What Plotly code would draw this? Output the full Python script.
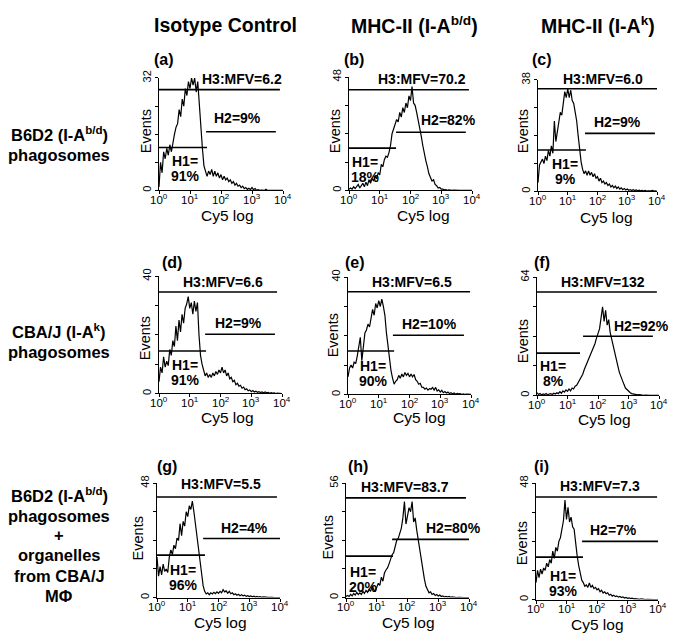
import plotly.graph_objects as go

W, H = 676, 637

# log10 fluorescence channel positions (bin grid, 0 .. 4 decades)
LOG_CHANNELS = [round(i * 0.05, 2) for i in range(81)]

COUNTS_A = [1, 8, 5, 11, 9, 12, 10, 13, 11, 14, 16, 18, 19, 23, 21, 26, 24, 29, 27, 31,
            29, 32, 30, 32, 28, 31, 24, 18, 12, 7, 5.5, 4, 5.5, 4.5, 6, 4, 5.5, 4, 5, 3.5,
            4.5, 3, 4, 3, 3.5, 2.5, 3, 2, 2.5, 1.5, 2, 1.2, 1.5, 0.8, 1.2, 0.5, 0.8, 0.3, 0.6, 0.2,
            0.8, 0.2, 0.5, 0, 0.2, 0, 0.1, 0, 0, 0.3, 0, 0, 0, 0.2, 0, 0, 0, 0, 0, 0, 0]
COUNTS_B = [0.5, 1, 0.5, 1.5, 0.8, 1.5, 2.5, 1, 2, 3, 1.5, 3.5, 2, 4.5, 3, 5, 4, 6, 5, 7.5,
            6.5, 11, 10, 13, 14.5, 14, 16, 19, 24, 26, 27, 30, 29, 33, 31, 35, 33, 37, 35, 40,
            38, 44, 37, 36, 33, 30, 27, 23, 19, 15, 12.5, 10, 7, 5.5, 4, 4.5, 2.5, 2, 1, 1.2,
            0.5, 0.5, 0.2, 0.3, 0, 0.2, 0, 0, 0.1, 0, 0, 0, 0, 0, 0, 0, 0, 0, 0, 0, 0]
COUNTS_C = [3, 9, 10, 11, 9.5, 12, 10.5, 14, 12, 15.5, 13, 24, 17, 20, 23, 27, 26, 31, 34, 32,
            35, 32, 34.5, 31, 30, 27, 24, 19, 13.5, 10, 7.5, 6, 7, 5.5, 7, 5.5, 6.5, 5, 6, 4.5,
            5, 3.5, 4.5, 3, 3.5, 2.5, 3, 2, 2.5, 1.5, 2, 1.2, 1.8, 1, 1.5, 0.8, 1.2, 0.6, 1, 0.5,
            0.8, 0.4, 0.6, 0.3, 0.6, 0.3, 0.5, 0.2, 0.4, 0.2, 0.3, 0.1, 0.3, 0.1, 0.2, 0.1, 0.2, 0.3, 0.1, 0.2, 0]
COUNTS_D = [4, 9, 7, 12.5, 9, 11, 9.5, 15, 13, 18, 16, 23, 18, 25, 21, 27, 24, 29, 30.5, 33,
            29, 31, 27, 31.5, 28, 31, 20, 13, 10, 7.5, 6, 7, 5.5, 6.5, 5.5, 7, 6, 7.5, 6.5, 8,
            7, 9, 7, 8, 6, 7, 5, 5.5, 4, 4.5, 3, 3.5, 2.5, 2.8, 1.8, 2.2, 1.3, 1.6, 0.9, 1.2,
            0.6, 1, 0.5, 0.8, 0.4, 0.6, 0.3, 0.5, 0.2, 0.5, 0.2, 0.4, 0.1, 0.3, 0.1, 0.2, 0, 0.1, 0, 0, 0]
COUNTS_E = [6, 9, 10, 9, 11, 10.5, 13, 16, 19.5, 11.5, 16, 21, 22, 24, 23, 26, 29, 27, 31, 29.5,
            32, 30, 32.5, 30, 27, 21, 16, 12, 8, 5.5, 3.5, 4.5, 5, 6.5, 5.5, 7, 6, 7.5, 6.5, 7.2,
            6, 7, 6, 6.8, 5, 4.5, 3.5, 3.8, 2.5, 2.4, 1.8, 2.2, 1.5, 2, 1.8, 2.4, 1.5, 2.4, 1.2, 1.6,
            0.8, 1.4, 0.6, 1, 0.5, 0.8, 0.3, 0.6, 0.2, 0.5, 0.1, 0.4, 0.2, 0.3, 0, 0.2, 0, 0.1, 0, 0, 0]
COUNTS_F = [1.5, 0.5, 1, 0.3, 0.8, 0.5, 1, 0.3, 0.8, 1, 0.5, 1.2, 0.8, 1.5, 1, 2, 1.2, 2.5, 1.8, 3,
            2.2, 3.5, 2.5, 4, 3.5, 5, 5.5, 7, 8.5, 10, 11.5, 14, 16, 18, 19.5, 21.5, 23, 26, 28, 31,
            33, 36, 42, 48, 40, 46, 38, 41, 34, 30, 27, 23, 19.5, 16, 12.5, 10, 7.5, 6, 4, 3.2,
            2, 1.6, 1, 0.8, 0.5, 0.6, 0.3, 0.4, 0.2, 0.3, 0.1, 0.2, 0, 0.2, 0, 0.1, 0, 0, 0, 0, 0]
COUNTS_G = [17, 9, 13, 9.5, 14, 11, 12, 10.5, 17, 20, 18, 22, 20.5, 25, 24, 31, 26, 32, 30, 36,
            34, 38.5, 37, 40.5, 36, 31, 25, 19, 14, 9, 5, 2.6, 1.5, 2, 1.2, 2, 1.5, 2.2, 1.6, 2.4,
            1.8, 2.6, 2, 3.3, 2.4, 2.8, 1.8, 2.6, 1.6, 2, 1.2, 1.6, 1, 1.4, 0.8, 1.2, 0.7, 1, 0.5, 0.8,
            0.4, 0.7, 0.3, 0.6, 0.2, 0.5, 0.2, 0.4, 0.1, 0.3, 0.1, 0.2, 0.1, 0.2, 0, 0.1, 0, 0, 0, 0, 0]
COUNTS_H = [0.5, 1, 0.5, 1.5, 0.8, 2, 1.2, 2.5, 1.5, 2.3, 1.5, 3, 2, 3.5, 2.5, 4, 3, 5.5, 4, 3,
            5, 7, 6, 10, 8, 12, 13.5, 14.5, 16.5, 19, 21, 22, 25, 28, 29, 31, 34, 39, 47, 36,
            41, 44, 42, 47, 37, 39, 33, 28, 22, 17, 12, 9, 5.5, 4, 2.3, 2.8, 1.5, 2, 1, 1.5,
            0.8, 1.2, 0.5, 0.8, 0.3, 0.6, 0.2, 0.5, 0.1, 0.3, 0.1, 0.2, 0, 0.1, 0, 0.1, 0, 0, 0, 0, 0]
COUNTS_I = [7, 12, 9, 12.5, 10.5, 13, 12, 15, 13.5, 16.5, 15, 20, 17, 21.5, 20, 24, 25.5, 29, 32.5, 41,
            33, 38, 32, 34, 30, 29, 22, 18, 14, 11, 8, 7, 5.5, 6, 5, 6.8, 5, 5.8, 4.5, 5,
            4, 4.5, 3.2, 3.8, 2.7, 3.2, 2.4, 2.8, 1.8, 2.2, 1.4, 1.8, 1.2, 1.5, 1, 1.3, 0.8, 1.1, 0.6, 0.9,
            0.5, 0.7, 0.4, 0.6, 0.3, 0.4, 0.2, 0.3, 0.1, 0.3, 0.1, 0.2, 0, 0.1, 0, 0.1, 0, 0, 0, 0, 0]

PANEL_LETTERS = ["a", "b", "c", "d", "e", "f", "g", "h", "i"]
COUNTS = [COUNTS_A, COUNTS_B, COUNTS_C, COUNTS_D, COUNTS_E, COUNTS_F, COUNTS_G, COUNTS_H, COUNTS_I]
Y_MAX = [32, 48, 38, 40, 40, 64, 48, 56, 48]

MFV = ["6.2", "70.2", "6.0", "6.6", "6.5", "132", "5.5", "83.7", "7.3"]
H2_PCT = [9, 82, 9, 9, 10, 92, 4, 80, 7]
H1_PCT = [91, 18, 9, 91, 90, 8, 96, 20, 93]

# gate markers (log10 channel, events)
GATE_H1_END = [1.55, 1.53, 1.61, 1.53, 1.50, 1.41, 1.56, 1.53, 1.54]
GATE_H1_Y = [12.2, 17.9, 14.1, 14.5, 14.8, 22.9, 17.8, 20.3, 17.5]
GATE_H2_START = [1.52, 1.53, 1.58, 1.50, 1.46, 1.51, 1.50, 1.50, 1.51]
GATE_H2_END = [3.77, 3.80, 3.93, 3.77, 3.77, 3.80, 4.0, 4.0, 4.0]
GATE_H2_Y = [16.7, 24.6, 19.8, 20.2, 20.2, 32.0, 24.8, 28.5, 24.0]
GATE_H3_END = [3.90, 3.90, 4.0, 3.84, 3.97, 3.93, 3.90, 3.90, 3.97]
GATE_H3_Y = [28.7, 42.6, 35.0, 34.6, 35.0, 56.0, 42.2, 48.8, 42.3]

X_TICKVALS = [0, 1, 2, 3, 4]
X_TICKTEXT = ["10<sup>0</sup>", "10<sup>1</sup>", "10<sup>2</sup>", "10<sup>3</sup>", "10<sup>4</sup>"]

COL_HEADERS = ["Isotype Control", "MHC-II (I-A<sup>b/d</sup>)", "MHC-II (I-A<sup>k</sup>)"]
ROW_LABELS = [
    ["B6D2 (I-A<sup>b/d</sup>)", "phagosomes"],
    ["CBA/J (I-A<sup>k</sup>)", "phagosomes"],
    ["B6D2 (I-A<sup>b/d</sup>)", "phagosomes", "+", "organelles", "from CBA/J", "MΦ"],
]

# ---- layout geometry (pixels) ----
AXIS_BOX = [(159, 283, 71, 185), (349, 472, 70, 185), (538, 657, 73, 186),
            (159, 282, 272, 391), (348, 471, 273, 392), (537, 659, 273, 393),
            (157, 280, 482, 598), (346, 469, 482, 598), (536, 658, 482, 600)]
LETTER_XY = [(164, 52), (354, 52), (542, 52), (172, 258), (355, 258), (542, 258),
             (167, 465), (358, 465), (541, 465)]
H3_XY = [(242, 72), (422, 72), (603, 72), (223, 278), (412, 278), (603, 278),
         (221, 483), (405, 486), (600, 485)]
H2_XY = [(237, 112), (448, 114), (617, 116), (238, 320), (429, 321), (641, 323),
         (244, 527), (453, 527), (613, 529)]
H1_XY = [(185, 155), (365, 156), (565, 158), (185, 362), (373, 363), (553, 363),
         (183, 570), (363, 572), (563, 576)]
EVENTS_XY = [(146, 125), (335, 125), (523, 125), (145, 335), (333, 332), (523, 338),
             (138, 538), (328, 537), (522, 543)]
CY5_XY = [(227, 210), (423, 210), (606, 213), (227, 415), (420, 415), (604, 417),
          (220, 623), (408, 623), (597, 625)]
HEADER_XY = [(225, 17), (414, 17), (598, 17)]
ROW_LABEL_Y = [[128, 149], [328, 349], [494, 515, 535, 555, 576, 596]]
ROW_LABEL_X = 59
XTICK_LABEL_GAP = 9

FONT = "Liberation Sans, Arial, Helvetica, sans-serif"


def fx(x):
    return x / W


def fy(y):
    return 1 - y / H


fig = go.Figure()
annotations = []
layout_axes = {}


def ann(text, xy, size, bold=False, angle=0):
    annotations.append(dict(
        text=("<b>%s</b>" % text) if bold else text, x=fx(xy[0]), y=fy(xy[1]),
        xref="paper", yref="paper", xanchor="center", yanchor="middle", showarrow=False,
        textangle=angle, font=dict(family=FONT, size=size, color="black")))


for k in range(9):
    n = "" if k == 0 else str(k + 1)
    xa, ya = "x" + n, "y" + n
    l, r, t, b = AXIS_BOX[k]
    ymax = Y_MAX[k]

    fig.add_trace(go.Scatter(x=LOG_CHANNELS, y=COUNTS[k], xaxis=xa, yaxis=ya, mode="lines",
                             line=dict(color="black", width=1.2), showlegend=False, hoverinfo="skip"))
    gate_style = dict(color="black", width=1.6)
    fig.add_trace(go.Scatter(x=[0, GATE_H1_END[k]], y=[GATE_H1_Y[k]] * 2, xaxis=xa, yaxis=ya,
                             mode="lines", line=gate_style, showlegend=False, hoverinfo="skip"))
    fig.add_trace(go.Scatter(x=[GATE_H2_START[k], GATE_H2_END[k]], y=[GATE_H2_Y[k]] * 2, xaxis=xa, yaxis=ya,
                             mode="lines", line=gate_style, showlegend=False, hoverinfo="skip"))
    fig.add_trace(go.Scatter(x=[0, GATE_H3_END[k]], y=[GATE_H3_Y[k]] * 2, xaxis=xa, yaxis=ya,
                             mode="lines", line=gate_style, showlegend=False, hoverinfo="skip"))

    layout_axes["xaxis" + n] = dict(
        domain=[fx(l), fx(r)], range=[0, 4], anchor=ya, tickvals=X_TICKVALS, showticklabels=False,
        showline=True, linecolor="black", linewidth=1, ticks="outside", ticklen=3, tickwidth=1,
        tickcolor="black", showgrid=False, zeroline=False)
    layout_axes["yaxis" + n] = dict(
        domain=[fy(b), fy(t)], range=[0, ymax], anchor=xa,
        tickvals=[0, ymax], ticktext=["0", str(ymax)], tickangle=-90,
        minor=dict(tick0=0, dtick=ymax / 4, ticks="outside", ticklen=3, tickwidth=1,
                   tickcolor="black", showgrid=False),
        showline=True, linecolor="black", linewidth=1, ticks="outside", ticklen=3, tickwidth=1,
        tickcolor="black", showgrid=False, zeroline=False,
        tickfont=dict(family=FONT, size=11, color="black"))

    # x tick labels placed just under the axis, at the axis' own tick values
    for tv, tt in zip(X_TICKVALS, X_TICKTEXT):
        annotations.append(dict(text=tt, x=tv, xref=xa, y=fy(b + XTICK_LABEL_GAP), yref="paper",
                                xanchor="center", yanchor="middle", showarrow=False,
                                font=dict(family=FONT, size=11.5, color="black")))

    ann("(%s)" % PANEL_LETTERS[k], LETTER_XY[k], 16, bold=True)
    ann("H3:MFV=%s" % MFV[k], H3_XY[k], 14, bold=True)
    ann("H2=%d%%" % H2_PCT[k], H2_XY[k], 14, bold=True)
    ann("H1=", H1_XY[k], 14, bold=True)
    ann("%d%%" % H1_PCT[k], (H1_XY[k][0], H1_XY[k][1] + 15), 14, bold=True)
    ann("Events", EVENTS_XY[k], 14.5, angle=-90)
    ann("Cy5 log", CY5_XY[k], 15.5)

for text, xy in zip(COL_HEADERS, HEADER_XY):
    ann(text, xy, 19.5, bold=True)

for lines, ys in zip(ROW_LABELS, ROW_LABEL_Y):
    for text, y in zip(lines, ys):
        ann(text, (ROW_LABEL_X, y), 16.5, bold=True)

fig.update_layout(width=W, height=H, autosize=False, margin=dict(l=0, r=0, t=0, b=0),
                  paper_bgcolor="white", plot_bgcolor="white", annotations=annotations,
                  **layout_axes)

fig.write_html("out.html", config={"displayModeBar": False},
               post_script="document.body.style.margin='0';document.body.style.overflow='hidden';")
